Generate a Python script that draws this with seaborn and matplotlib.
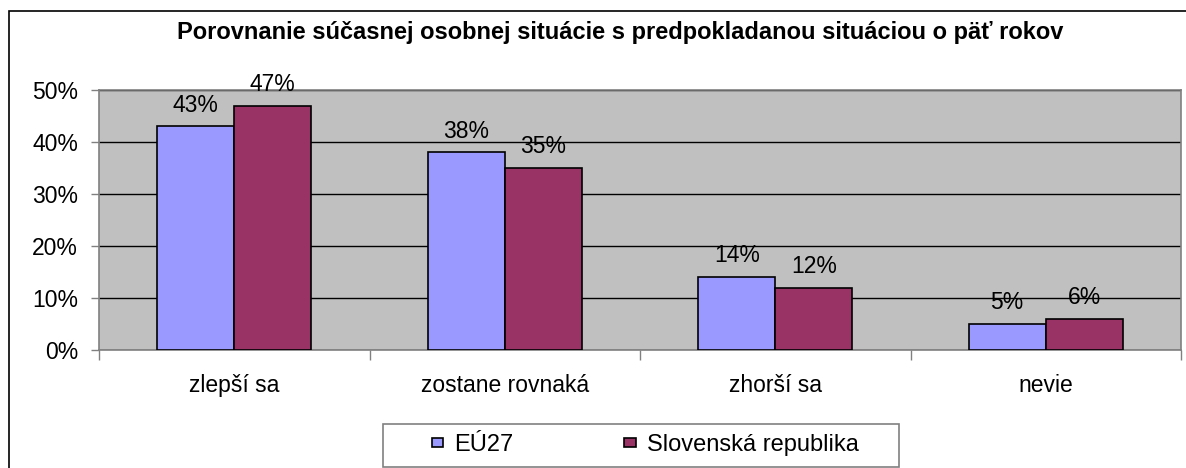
import matplotlib
matplotlib.use("Agg")
import matplotlib.pyplot as plt
import matplotlib.patches as mpatches
from matplotlib.ticker import FixedLocator, FuncFormatter
import pandas as pd
import seaborn as sns

title = "Porovnanie súčasnej osobnej situácie s predpokladanou situáciou o päť rokov"
categories = ["zlepší sa", "zostane rovnaká", "zhorší sa", "nevie"]
series_names = ["EÚ27", "Slovenská republika"]
eu27 = [43, 38, 14, 5]
slovakia = [47, 35, 12, 6]
colors = ["#9999FF", "#993366"]

df = pd.DataFrame({
    "kategoria": categories * 2,
    "skupina": [series_names[0]] * 4 + [series_names[1]] * 4,
    "hodnota": eu27 + slovakia,
})

sns.set_style("white")
plt.rcParams["font.family"] = ["Liberation Sans", "DejaVu Sans"]
plt.rcParams["text.color"] = "black"
plt.rcParams["xtick.labelcolor"] = "black"
plt.rcParams["ytick.labelcolor"] = "black"

W, H = 1186, 468
fig = plt.figure(figsize=(W / 100, H / 100), dpi=100)
ax = fig.add_axes([99 / W, 1 - 350 / H, 1082 / W, 260 / H])
ax.set_facecolor("#C0C0C0")

sns.barplot(
    data=df,
    x="kategoria",
    y="hodnota",
    hue="skupina",
    palette=colors,
    saturation=1,
    width=0.57,
    edgecolor="black",
    linewidth=1.2,
    ax=ax,
    legend=False,
    zorder=3,
)

for cont in ax.containers:
    ax.bar_label(
        cont,
        labels=[f"{v:.0f}%" for v in cont.datavalues],
        padding=7,
        fontsize=16.5,
        color="black",
    )

ax.set_ylim(0, 50)
ax.set_xlim(-0.5, 3.5)
ax.set_yticks([0, 10, 20, 30, 40, 50])
ax.yaxis.set_major_formatter(FuncFormatter(lambda v, p: f"{v:.0f}%"))
ax.grid(axis="y", color="black", linewidth=1, zorder=0)
ax.set_axisbelow(True)
ax.set_xlabel("")
ax.set_ylabel("")

ax.tick_params(axis="y", labelsize=16.5, length=6, width=1, color="#808080",
               labelcolor="black", left=True, direction="out", pad=9)
ax.tick_params(axis="x", which="major", labelsize=16.5, length=0, pad=17,
               labelcolor="black")
ax.xaxis.set_minor_locator(FixedLocator([-0.5, 0.5, 1.5, 2.5, 3.5]))
ax.tick_params(axis="x", which="minor", length=7, width=1, color="#808080",
               bottom=True, direction="out")

for side in ["left", "right", "top", "bottom"]:
    ax.spines[side].set_visible(True)
    ax.spines[side].set_color("#808080")
    ax.spines[side].set_linewidth(1.2)

fig.text(
    620 / W, 1 - 33 / H, title,
    ha="center", va="center",
    fontsize=17, fontweight="bold", color="black",
)

# chart frame
fig.patches.append(mpatches.Rectangle(
    (9 / W, -0.05), 1.1, 1 - 11 / H + 0.05,
    transform=fig.transFigure, fill=False,
    edgecolor="black", linewidth=1.2,
))

# legend frame
fig.patches.append(mpatches.Rectangle(
    (383 / W, 1 - 467 / H), 516 / W, 43 / H,
    transform=fig.transFigure, fill=False,
    edgecolor="#808080", linewidth=1.2,
))

handles = [
    mpatches.Patch(facecolor=c, edgecolor="black", linewidth=1.2)
    for c in colors
]
leg = fig.legend(
    handles, series_names,
    loc="center",
    bbox_to_anchor=(645 / W, 1 - 445 / H),
    ncol=2,
    frameon=False,
    fontsize=17,
    handlelength=0.5,
    handleheight=0.26,
    handletextpad=0.45,
    columnspacing=4.7,
    borderpad=0,
    borderaxespad=0,
)
for t in leg.get_texts():
    t.set_color("black")

fig.savefig("out.png", dpi=100, facecolor="white")
